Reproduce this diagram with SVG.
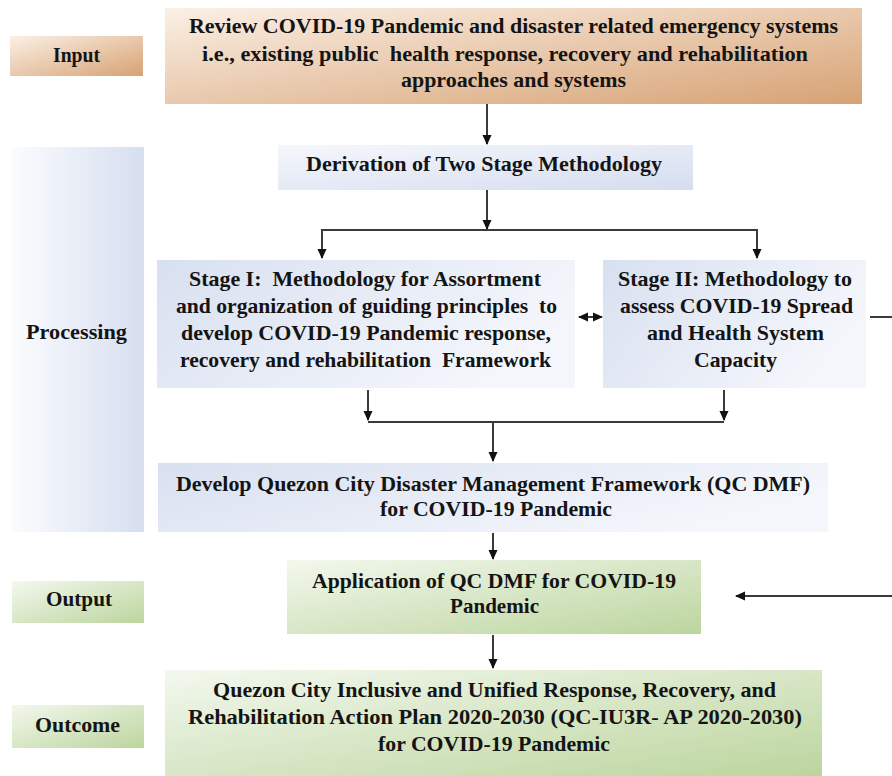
<svg xmlns="http://www.w3.org/2000/svg" width="892" height="776" viewBox="0 0 892 776">
  <defs>
    <linearGradient id="gBrown" x1="0" y1="0" x2="1" y2="1">
      <stop offset="0" stop-color="#fbf0e6"/>
      <stop offset="1" stop-color="#d7a274"/>
    </linearGradient>
    <linearGradient id="gBlueL" x1="0" y1="0" x2="1" y2="0">
      <stop offset="0" stop-color="#fbfcfe"/>
      <stop offset="1" stop-color="#d6deef"/>
    </linearGradient>
    <linearGradient id="gBlueR" x1="0" y1="0" x2="1" y2="0.4">
      <stop offset="0" stop-color="#d8e0f0"/>
      <stop offset="1" stop-color="#f4f6fb"/>
    </linearGradient>
    <linearGradient id="gBlueD" x1="0" y1="0" x2="1" y2="1">
      <stop offset="0" stop-color="#f5f7fc"/>
      <stop offset="1" stop-color="#d5ddef"/>
    </linearGradient>
    <linearGradient id="gGreen" x1="0" y1="0" x2="1" y2="1">
      <stop offset="0" stop-color="#f3f8ee"/>
      <stop offset="1" stop-color="#bcd59e"/>
    </linearGradient>
    <marker id="arr" markerWidth="10" markerHeight="10" refX="9" refY="5" orient="auto" markerUnits="userSpaceOnUse">
      <path d="M0,0.5 L10,5 L0,9.5 Z" fill="#111"/>
    </marker>
    <marker id="arrS" markerWidth="10" markerHeight="10" refX="9" refY="5" orient="auto-start-reverse" markerUnits="userSpaceOnUse">
      <path d="M0,0.5 L10,5 L0,9.5 Z" fill="#111"/>
    </marker>
  </defs>
  <style>
    text { font-family: "Liberation Serif", "Times New Roman", serif; font-weight: bold; font-size: 21px; fill: #141414; }
    .wire { fill: none; stroke: #3a3a3a; stroke-width: 2; }
  </style>

  <rect width="892" height="776" fill="#ffffff"/>

  <!-- stage labels on the left -->
  <g id="lbl-input">
    <rect x="10" y="36" width="133" height="40" fill="url(#gBrown)"/>
    <text x="53" y="62" textLength="47" lengthAdjust="spacingAndGlyphs">Input</text>
  </g>
  <g id="lbl-processing">
    <rect x="12" y="147" width="132" height="385" fill="url(#gBlueL)"/>
    <text x="26" y="339" textLength="101" lengthAdjust="spacingAndGlyphs">Processing</text>
  </g>
  <g id="lbl-output">
    <rect x="12" y="581" width="132" height="42" fill="url(#gGreen)"/>
    <text x="46" y="606" textLength="66" lengthAdjust="spacingAndGlyphs">Output</text>
  </g>
  <g id="lbl-outcome">
    <rect x="12" y="705" width="132" height="43" fill="url(#gGreen)"/>
    <text x="35" y="732" textLength="85" lengthAdjust="spacingAndGlyphs">Outcome</text>
  </g>

  <!-- process boxes -->
  <g id="review">
    <rect x="165" y="8" width="697" height="96" fill="url(#gBrown)"/>
    <text x="189" y="33" textLength="649" lengthAdjust="spacingAndGlyphs">Review COVID-19 Pandemic and disaster related emergency systems</text>
    <text x="202" y="61" textLength="606" lengthAdjust="spacingAndGlyphs" xml:space="preserve">i.e., existing public  health response, recovery and rehabilitation</text>
    <text x="401" y="87" textLength="225" lengthAdjust="spacingAndGlyphs">approaches and systems</text>
  </g>
  <g id="derivation">
    <rect x="278" y="145" width="415" height="45" fill="url(#gBlueD)"/>
    <text x="306" y="171" textLength="356" lengthAdjust="spacingAndGlyphs">Derivation of Two Stage Methodology</text>
  </g>
  <g id="stage1">
    <rect x="157" y="260" width="418" height="128" fill="url(#gBlueR)"/>
    <text x="189" y="286" textLength="352" lengthAdjust="spacingAndGlyphs" xml:space="preserve">Stage I:  Methodology for Assortment</text>
    <text x="176" y="313" textLength="381" lengthAdjust="spacingAndGlyphs" xml:space="preserve">and organization of guiding principles  to</text>
    <text x="181" y="340" textLength="370" lengthAdjust="spacingAndGlyphs">develop COVID-19 Pandemic response,</text>
    <text x="180" y="367" textLength="371" lengthAdjust="spacingAndGlyphs" xml:space="preserve">recovery and rehabilitation  Framework</text>
  </g>
  <g id="stage2">
    <rect x="603" y="260" width="263" height="128" fill="url(#gBlueR)"/>
    <text x="618" y="286" textLength="234" lengthAdjust="spacingAndGlyphs">Stage II: Methodology to</text>
    <text x="620" y="313" textLength="233" lengthAdjust="spacingAndGlyphs">assess COVID-19 Spread</text>
    <text x="647" y="340" textLength="177" lengthAdjust="spacingAndGlyphs">and Health System</text>
    <text x="694" y="367" textLength="83" lengthAdjust="spacingAndGlyphs">Capacity</text>
  </g>
  <g id="develop-dmf">
    <rect x="158" y="463" width="670" height="69" fill="url(#gBlueR)"/>
    <text x="176" y="491" textLength="634" lengthAdjust="spacingAndGlyphs">Develop Quezon City Disaster Management Framework (QC DMF)</text>
    <text x="380" y="516" textLength="232" lengthAdjust="spacingAndGlyphs">for COVID-19 Pandemic</text>
  </g>
  <g id="apply-dmf">
    <rect x="287" y="560" width="414" height="74" fill="url(#gGreen)"/>
    <text x="312" y="588" textLength="364" lengthAdjust="spacingAndGlyphs">Application of QC DMF for COVID-19</text>
    <text x="450" y="613" textLength="89" lengthAdjust="spacingAndGlyphs">Pandemic</text>
  </g>
  <g id="action-plan">
    <rect x="165" y="670" width="657" height="106" fill="url(#gGreen)"/>
    <text x="213" y="697" textLength="563" lengthAdjust="spacingAndGlyphs">Quezon City Inclusive and Unified Response, Recovery, and</text>
    <text x="188" y="724" textLength="614" lengthAdjust="spacingAndGlyphs">Rehabilitation Action Plan 2020-2030 (QC-IU3R- AP 2020-2030)</text>
    <text x="378" y="751" textLength="232" lengthAdjust="spacingAndGlyphs">for COVID-19 Pandemic</text>
  </g>

  <!-- connectors -->
  <g id="connectors">
    <path class="wire" d="M487,104 V144" marker-end="url(#arr)"/>
    <path class="wire" d="M487,190 V229" marker-end="url(#arr)"/>
    <path class="wire" d="M322,258 V230 H757 V258" marker-start="url(#arrS)" marker-end="url(#arr)"/>
    <path class="wire" d="M579,317 H602" marker-start="url(#arrS)" marker-end="url(#arr)"/>
    <path class="wire" d="M368,390 V420" marker-end="url(#arr)"/>
    <path class="wire" d="M724,390 V420" marker-end="url(#arr)"/>
    <path class="wire" d="M368,422 H724"/>
    <path class="wire" d="M493,422 V461" marker-end="url(#arr)"/>
    <path class="wire" d="M493,533 V559" marker-end="url(#arr)"/>
    <path class="wire" d="M493,635 V668" marker-end="url(#arr)"/>
    <path class="wire" d="M870,317 H900 V596 H736" marker-end="url(#arr)"/>
  </g>
</svg>
